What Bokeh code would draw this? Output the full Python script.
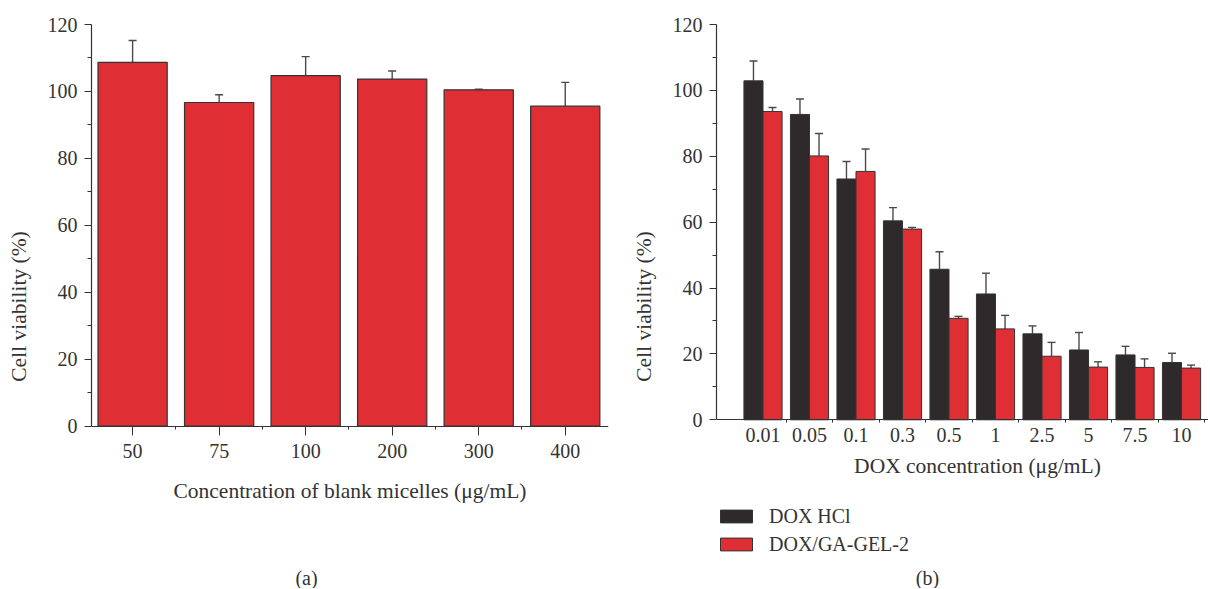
from bokeh.plotting import figure
from bokeh.models import (Range1d, FixedTicker, Whisker, TeeHead, ColumnDataSource,
                          Legend, LegendItem, Label)
from bokeh.layouts import row
from bokeh.embed import file_html
from bokeh.resources import INLINE

# ---------------- data ----------------
blank_conc = ["50", "75", "100", "200", "300", "400"]
blank_mean = [108.7, 96.7, 104.7, 103.7, 100.5, 95.6]
blank_err = [6.5, 2.3, 5.7, 2.4, 0.2, 7.1]

dox_conc = ["0.01", "0.05", "0.1", "0.3", "0.5", "1", "2.5", "5", "7.5", "10"]
dox_hcl_mean = [102.9, 92.7, 73.1, 60.4, 45.7, 38.2, 26.1, 21.2, 19.7, 17.4]
dox_hcl_err = [6.0, 4.7, 5.3, 4.0, 5.3, 6.3, 2.4, 5.3, 2.6, 2.8]
dox_gel_mean = [93.6, 80.1, 75.4, 57.9, 30.8, 27.6, 19.3, 16.0, 15.9, 15.7]
dox_gel_err = [1.2, 6.8, 6.8, 0.5, 0.6, 4.1, 4.2, 1.6, 2.6, 0.9]

y_ticks = [0, 20, 40, 60, 80, 100, 120]
y_minor = [10, 30, 50, 70, 90, 110]

# ---------------- style / layout ----------------
FONT = "Liberation Serif"
RED = "#E02E35"
BLACK = "#2E2A2B"
EDGE = "#333333"
ERR = "#4a4a4a"
TXT = "#333333"
FS = "20px"
FS_LABEL = "21.5px"
H = 588            # figure height
TOP = 24           # frame top (value 120) at y = 24


def lower_limit(zero_px, top_px=float(TOP), bottom_px=float(H), ymax=120.0):
    """extend the y range below 0 so that 0 sits at pixel row zero_px"""
    per_unit = (zero_px - top_px) / ymax
    return -(bottom_px - zero_px) / per_unit


def style_axes(p):
    for ax in (p.xaxis[0], p.yaxis[0]):
        ax.axis_line_color = EDGE
        ax.axis_line_width = 1.2
        ax.major_tick_line_color = EDGE
        ax.minor_tick_line_color = EDGE
        ax.major_tick_in = 0
        ax.minor_tick_in = 0
        ax.major_label_text_font = FONT
        ax.major_label_text_font_size = FS
        ax.major_label_text_color = TXT
        ax.axis_label_text_font = FONT
        ax.axis_label_text_font_size = FS_LABEL
        ax.axis_label_text_font_style = "normal"
        ax.axis_label_text_color = TXT
    p.yaxis[0].ticker = FixedTicker(ticks=y_ticks, minor_ticks=y_minor)
    p.yaxis[0].bounds = (0, 120)
    p.yaxis[0].major_tick_out = 7
    p.yaxis[0].minor_tick_out = 4
    p.yaxis[0].major_label_standoff = 7
    p.yaxis[0].axis_label = "Cell viability (%)"
    p.yaxis[0].axis_label_standoff = 14
    p.xaxis[0].fixed_location = 0
    p.xaxis[0].minor_tick_out = 3
    p.xgrid.visible = False
    p.ygrid.visible = False
    p.outline_line_color = None
    p.background_fill_color = "white"
    p.border_fill_color = "white"


def text_label(text, x, y, size=FS):
    return Label(x=x, y=y, x_units="screen", y_units="screen", text=text,
                 text_font=FONT, text_font_size=size, text_color=TXT,
                 text_align="center", text_baseline="middle")


# ---------------- panel (a) ----------------
pa = figure(width=628, height=H, output_backend="svg", toolbar_location=None,
            x_range=Range1d(0.525, 6.5), y_range=Range1d(lower_limit(425.7), 120),
            min_border_left=91, min_border_right=20, min_border_top=TOP,
            min_border_bottom=0)
xa = list(range(1, len(blank_conc) + 1))
src_a = ColumnDataSource(dict(x=xa, top=blank_mean,
                              upper=[m + e for m, e in zip(blank_mean, blank_err)]))
pa.vbar(x="x", top="top", bottom=0, width=0.8, source=src_a,
        fill_color=RED, line_color=EDGE, line_width=1.2)
pa.add_layout(Whisker(source=src_a, base="x", upper="upper", lower="top",
                      line_color=ERR, line_width=1.4,
                      upper_head=TeeHead(size=8, line_color=ERR, line_width=1.4),
                      lower_head=None))
style_axes(pa)
pa.xaxis[0].ticker = FixedTicker(ticks=xa, minor_ticks=[i + 0.5 for i in xa[:-1]])
pa.xaxis[0].major_label_overrides = {i: s for i, s in zip(xa, blank_conc)}
pa.xaxis[0].major_tick_out = 9
pa.xaxis[0].major_label_standoff = 9
pa.xaxis[0].axis_label = "Concentration of blank micelles (\u03bcg/mL)"
pa.xaxis[0].axis_label_standoff = 17
pa.add_layout(text_label("(a)", 215, H - 577))

# ---------------- panel (b) ----------------
pb = figure(width=580, height=H, output_backend="svg", toolbar_location=None,
            x_range=Range1d(0, 10.58), y_range=Range1d(lower_limit(419.3), 120),
            min_border_left=84, min_border_right=0, min_border_top=TOP,
            min_border_bottom=0)
xb = list(range(1, len(dox_conc) + 1))
src_h = ColumnDataSource(dict(x=[i - 0.205 for i in xb], top=dox_hcl_mean,
                              upper=[m + e for m, e in zip(dox_hcl_mean, dox_hcl_err)]))
src_g = ColumnDataSource(dict(x=[i + 0.205 for i in xb], top=dox_gel_mean,
                              upper=[m + e for m, e in zip(dox_gel_mean, dox_gel_err)]))
rh = pb.vbar(x="x", top="top", bottom=0, width=0.41, source=src_h,
             fill_color=BLACK, line_color=EDGE, line_width=1.0)
rg = pb.vbar(x="x", top="top", bottom=0, width=0.41, source=src_g,
             fill_color=RED, line_color=EDGE, line_width=1.0)
for s in (src_h, src_g):
    pb.add_layout(Whisker(source=s, base="x", upper="upper", lower="top",
                          line_color=ERR, line_width=1.4,
                          upper_head=TeeHead(size=8, line_color=ERR, line_width=1.4),
                          lower_head=None))
style_axes(pb)
pb.xaxis[0].ticker = FixedTicker(ticks=xb, minor_ticks=[i + 0.5 for i in xb])
pb.xaxis[0].major_label_overrides = {i: s for i, s in zip(xb, dox_conc)}
pb.xaxis[0].major_tick_out = 0
pb.xaxis[0].major_label_standoff = 5
# x-axis title of panel (b) sits right of the frame centre in the original
pb.add_layout(text_label("DOX concentration (\u03bcg/mL)", 261, H - 465, FS_LABEL))

legend = Legend(items=[LegendItem(label="DOX HCl", renderers=[rh]),
                       LegendItem(label="DOX/GA-GEL-2", renderers=[rg])],
                location=(0, H - 555.5), glyph_width=40, glyph_height=16,
                label_height=16, label_standoff=13, spacing=5,
                padding=0, margin=0, border_line_alpha=0, background_fill_alpha=0,
                label_text_font=FONT, label_text_font_size=FS,
                label_text_color=TXT)
pb.add_layout(legend)
pb.add_layout(text_label("(b)", 211, H - 577))

layout = row(pa, pb)
open("out.html", "w").write(file_html(layout, INLINE))
